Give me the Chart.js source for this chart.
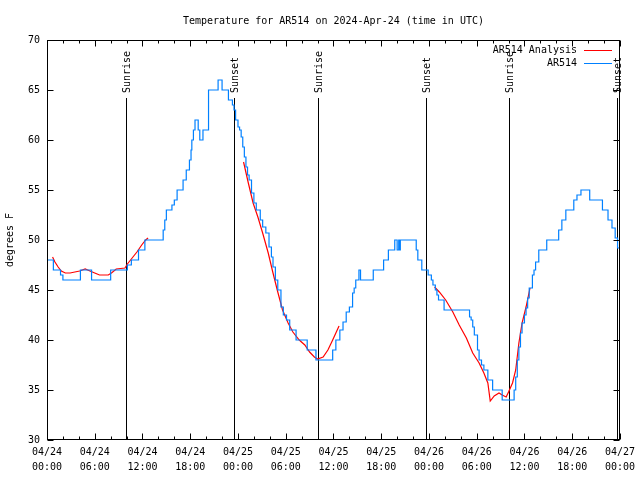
<!DOCTYPE html>
<html>
<head>
<meta charset="utf-8">
<title>Temperature for AR514</title>
<script src="https://cdn.jsdelivr.net/npm/chart.js@4.4.1/dist/chart.umd.min.js"></script>
<style>
  html, body { margin: 0; padding: 0; background: #fff; }
  #wrap { width: 640px; height: 480px; }
</style>
</head>
<body>
<div id="wrap"><canvas id="tempChart" width="640" height="480"></canvas></div>
<script>
// hours since 04/24 00:00 UTC
const tempHours = [0, 0.8, 1.7, 2.0, 4.2, 5.6, 8.0, 10.1, 10.6, 11.5, 12.3, 14.6, 14.8, 15.0, 15.7, 16.0, 16.35,
  17.1, 17.5, 17.9, 18.1, 18.2, 18.4, 18.6, 19.0, 19.2, 19.6, 20.3, 21.5, 22.0, 22.8, 23.3, 23.5, 23.7,
  24.0, 24.2, 24.4, 24.6, 24.8, 25.0, 25.2, 25.4, 25.7, 26.0, 26.3, 26.8, 27.1, 27.5, 27.9, 28.2, 28.4,
  28.7, 29.0, 29.4, 29.7, 30.1, 30.5, 31.3, 32.7, 33.8, 35.9, 36.3, 36.8, 37.2, 37.6, 38.0, 38.4, 38.6,
  38.8, 39.2, 39.4, 41.0, 42.3, 42.9, 43.7, 44.0, 44.2, 44.3, 44.4, 46.4, 46.6, 47.1, 47.9, 48.3, 48.5,
  48.8, 49.0, 49.2, 49.9, 53.1, 53.3, 53.5, 53.7, 54.1, 54.3, 54.6, 54.9, 55.4, 56.0, 57.2, 58.7, 58.9,
  59.1, 59.3, 59.5, 59.7, 60.0, 60.2, 60.4, 60.6, 61.0, 61.2, 61.4, 61.8, 62.8, 64.3, 64.7, 65.2, 66.2,
  66.6, 67.1, 68.2, 69.8, 70.5, 71.0, 71.4, 71.7, 72.0];
const tempValues = [48, 47, 46.5, 46, 47, 46, 47, 47.5, 48, 49, 50, 51, 52, 53, 53.5, 54, 55,
  56, 57, 58, 59, 60, 61, 62, 61, 60, 61, 65, 66, 65, 64, 63.5, 63, 62,
  61.3, 61, 60.3, 59.3, 58.3, 57.3, 56.5, 56, 54.7, 53.7, 53, 52, 51.3, 50.7, 49.3, 48.3, 47.3,
  46, 45, 43.3, 42.5, 42, 41, 40, 39, 38, 39, 40, 41, 41.8, 42.8, 43.3, 44.7, 45.2,
  46, 47, 46, 47, 48, 49, 50, 49, 50, 49, 50, 49, 48, 47, 46.5, 46, 45.5,
  45, 44.5, 44, 43, 42.3, 42, 41.3, 40.5, 39, 38, 37.5, 37, 36, 35, 34, 35, 36.3,
  38, 39.3, 40.7, 41.7, 42.5, 43.2, 44.2, 45.2, 46.5, 47, 47.8, 49, 50, 51, 52, 53, 54,
  54.5, 55, 54, 53, 52, 51.2, 50.2, 49.2, 49.5];

// analysis curve, null separates the three segments
const analysisHours = [0.7, 1.0, 1.4, 1.8, 2.3, 2.9, 3.5, 4.1, 4.8, 5.4, 6.0, 6.6, 7.7, 8.1, 8.7, 9.8, 10.1,
  10.6, 11.3, 11.9, 12.4, 12.7, 18,
  24.7, 25.3, 25.9, 26.5, 27.1, 27.8, 28.4, 29.0, 29.6, 30.3, 30.9, 31.7, 32.4, 33.0, 33.6, 34.0, 34.7,
  35.3, 35.9, 36.3, 36.7, 42,
  48.7, 49.3, 50.1, 51.0, 51.8, 52.7, 53.5, 54.3, 54.9, 55.4, 55.7, 56.2, 56.8, 57.2, 57.7, 58.0, 58.5,
  58.9, 59.3, 59.7, 60.2, 60.7];
const analysisValues = [48.3, 47.8, 47.3, 46.9, 46.7, 46.7, 46.8, 46.9, 47.1, 46.9, 46.7, 46.5, 46.5, 46.7, 47.1, 47.2, 47.6,
  48.1, 48.8, 49.5, 50, 50.2, null,
  57.8, 55.7, 53.7, 52.3, 50.7, 48.7, 46.7, 44.8, 43, 41.7, 40.8, 40, 39.5, 38.8, 38.3, 38.1, 38.3,
  39, 40, 40.7, 41.4, null,
  45.3, 44.8, 44, 42.8, 41.5, 40.2, 38.7, 37.7, 36.7, 35.7, 33.9, 34.4, 34.7, 34.5, 34.3, 34.8, 35.7,
  37, 39.7, 41.7, 43.3, 45.2];

const sunNames = ['Sunrise', 'Sunset', 'Sunrise', 'Sunset', 'Sunrise', 'Sunset'];
const sunHours = [9.9, 23.5, 34.05, 47.6, 58.0, 71.65];

const tickLabels = [
  ['04/24', '00:00'], ['04/24', '06:00'], ['04/24', '12:00'], ['04/24', '18:00'],
  ['04/25', '00:00'], ['04/25', '06:00'], ['04/25', '12:00'], ['04/25', '18:00'],
  ['04/26', '00:00'], ['04/26', '06:00'], ['04/26', '12:00'], ['04/26', '18:00'],
  ['04/27', '00:00']
];

const MONO = "'DejaVu Sans Mono', 'Liberation Mono', monospace";

function toPoints(xs, ys) {
  return xs.map((h, i) => ({ x: h, y: ys[i] }));
}

// gnuplot-style frame, inward ticks, sun lines and legend
const gnuplotDecor = {
  id: 'gnuplotDecor',
  beforeDatasetsDraw(chart) {
    const ctx = chart.ctx, x = chart.scales.x, a = chart.chartArea;
    ctx.save();
    ctx.strokeStyle = '#000';
    ctx.lineWidth = 1;
    ctx.fillStyle = '#000';
    ctx.font = '10px ' + MONO;
    sunHours.forEach((h, i) => {
      const px = Math.round(x.getPixelForValue(h)) + 0.5;
      ctx.beginPath();
      ctx.moveTo(px, 98);
      ctx.lineTo(px, a.bottom);
      ctx.stroke();
      ctx.save();
      ctx.translate(px + 1, 93);
      ctx.rotate(-Math.PI / 2);
      ctx.textAlign = 'left';
      ctx.textBaseline = 'middle';
      ctx.fillText(sunNames[i], 0, 0);
      ctx.restore();
    });
    ctx.restore();
  },
  afterDraw(chart) {
    const ctx = chart.ctx, x = chart.scales.x, y = chart.scales.y, a = chart.chartArea;
    ctx.save();
    ctx.strokeStyle = '#000';
    ctx.lineWidth = 1;
    const L = Math.round(a.left) + 0.5, R = Math.round(a.right) - 0.5;
    const T = Math.round(a.top) + 0.5, B = Math.round(a.bottom) - 0.5;
    ctx.strokeRect(L, T, R - L, B - T);
    ctx.beginPath();
    x.ticks.forEach(t => {
      const px = Math.round(x.getPixelForValue(t.value)) + 0.5;
      const len = t.value % 6 === 0 ? 6 : 3;
      ctx.moveTo(px, B); ctx.lineTo(px, B - len);
      ctx.moveTo(px, T); ctx.lineTo(px, T + len);
    });
    y.ticks.forEach(t => {
      const py = Math.round(y.getPixelForValue(t.value)) + 0.5;
      ctx.moveTo(L, py); ctx.lineTo(L + 6, py);
      ctx.moveTo(R, py); ctx.lineTo(R - 6, py);
    });
    ctx.stroke();

    // legend
    ctx.font = '10px ' + MONO;
    ctx.fillStyle = '#000';
    ctx.textAlign = 'right';
    ctx.textBaseline = 'middle';
    chart.data.datasets.forEach((ds, i) => {
      const ly = 50 + i * 13;
      ctx.fillText(ds.label, 577, ly);
      ctx.strokeStyle = ds.borderColor;
      ctx.beginPath();
      ctx.moveTo(584, ly + 0.5);
      ctx.lineTo(612, ly + 0.5);
      ctx.stroke();
    });
    ctx.restore();
  }
};

document.addEventListener('DOMContentLoaded', function() {
  const ctx = document.getElementById('tempChart');
  new Chart(ctx, {
    type: 'line',
    data: {
      datasets: [{
        label: 'AR514 Analysis',
        data: toPoints(analysisHours, analysisValues),
        borderColor: '#ff0000',
        borderWidth: 1.2,
        pointRadius: 0,
        spanGaps: false,
        tension: 0,
        order: 1
      }, {
        label: 'AR514',
        data: toPoints(tempHours, tempValues),
        borderColor: '#0080ff',
        borderWidth: 1.2,
        pointRadius: 0,
        stepped: 'before',
        order: 0
      }]
    },
    options: {
      responsive: false,
      animation: false,
      layout: { padding: { left: 0, right: 19, top: 0, bottom: 0 } },
      plugins: {
        legend: { display: false },
        tooltip: { enabled: false },
        title: {
          display: true, fullSize: false,
          text: 'Temperature for AR514 on 2024-Apr-24 (time in UTC)',
          font: { family: MONO, size: 10, weight: 'normal' }, color: '#000',
          padding: { top: 15, bottom: 13 }
        }
      },
      scales: {
        x: {
          type: 'linear', min: 0, max: 72,
          grid: { display: false, drawTicks: false },
          border: { display: false },
          afterFit: s => { s.height = 40; },
          ticks: {
            stepSize: 2, autoSkip: false, maxRotation: 0, padding: 5, color: '#000',
            font: { family: MONO, size: 10, lineHeight: 1.5 },
            callback: v => (v % 6 === 0 ? tickLabels[v / 6] : '')
          }
        },
        y: {
          min: 30, max: 70,
          grid: { display: false, drawTicks: false },
          border: { display: false },
          afterFit: s => { s.width = 47; },
          ticks: { stepSize: 5, padding: 7, color: '#000', font: { family: MONO, size: 10 } },
          title: {
            display: true, text: 'degrees F', color: '#000',
            font: { family: MONO, size: 10 }, padding: { top: 4, bottom: 0 }
          }
        }
      }
    },
    plugins: [gnuplotDecor]
  });
});
</script>
</body>
</html>
